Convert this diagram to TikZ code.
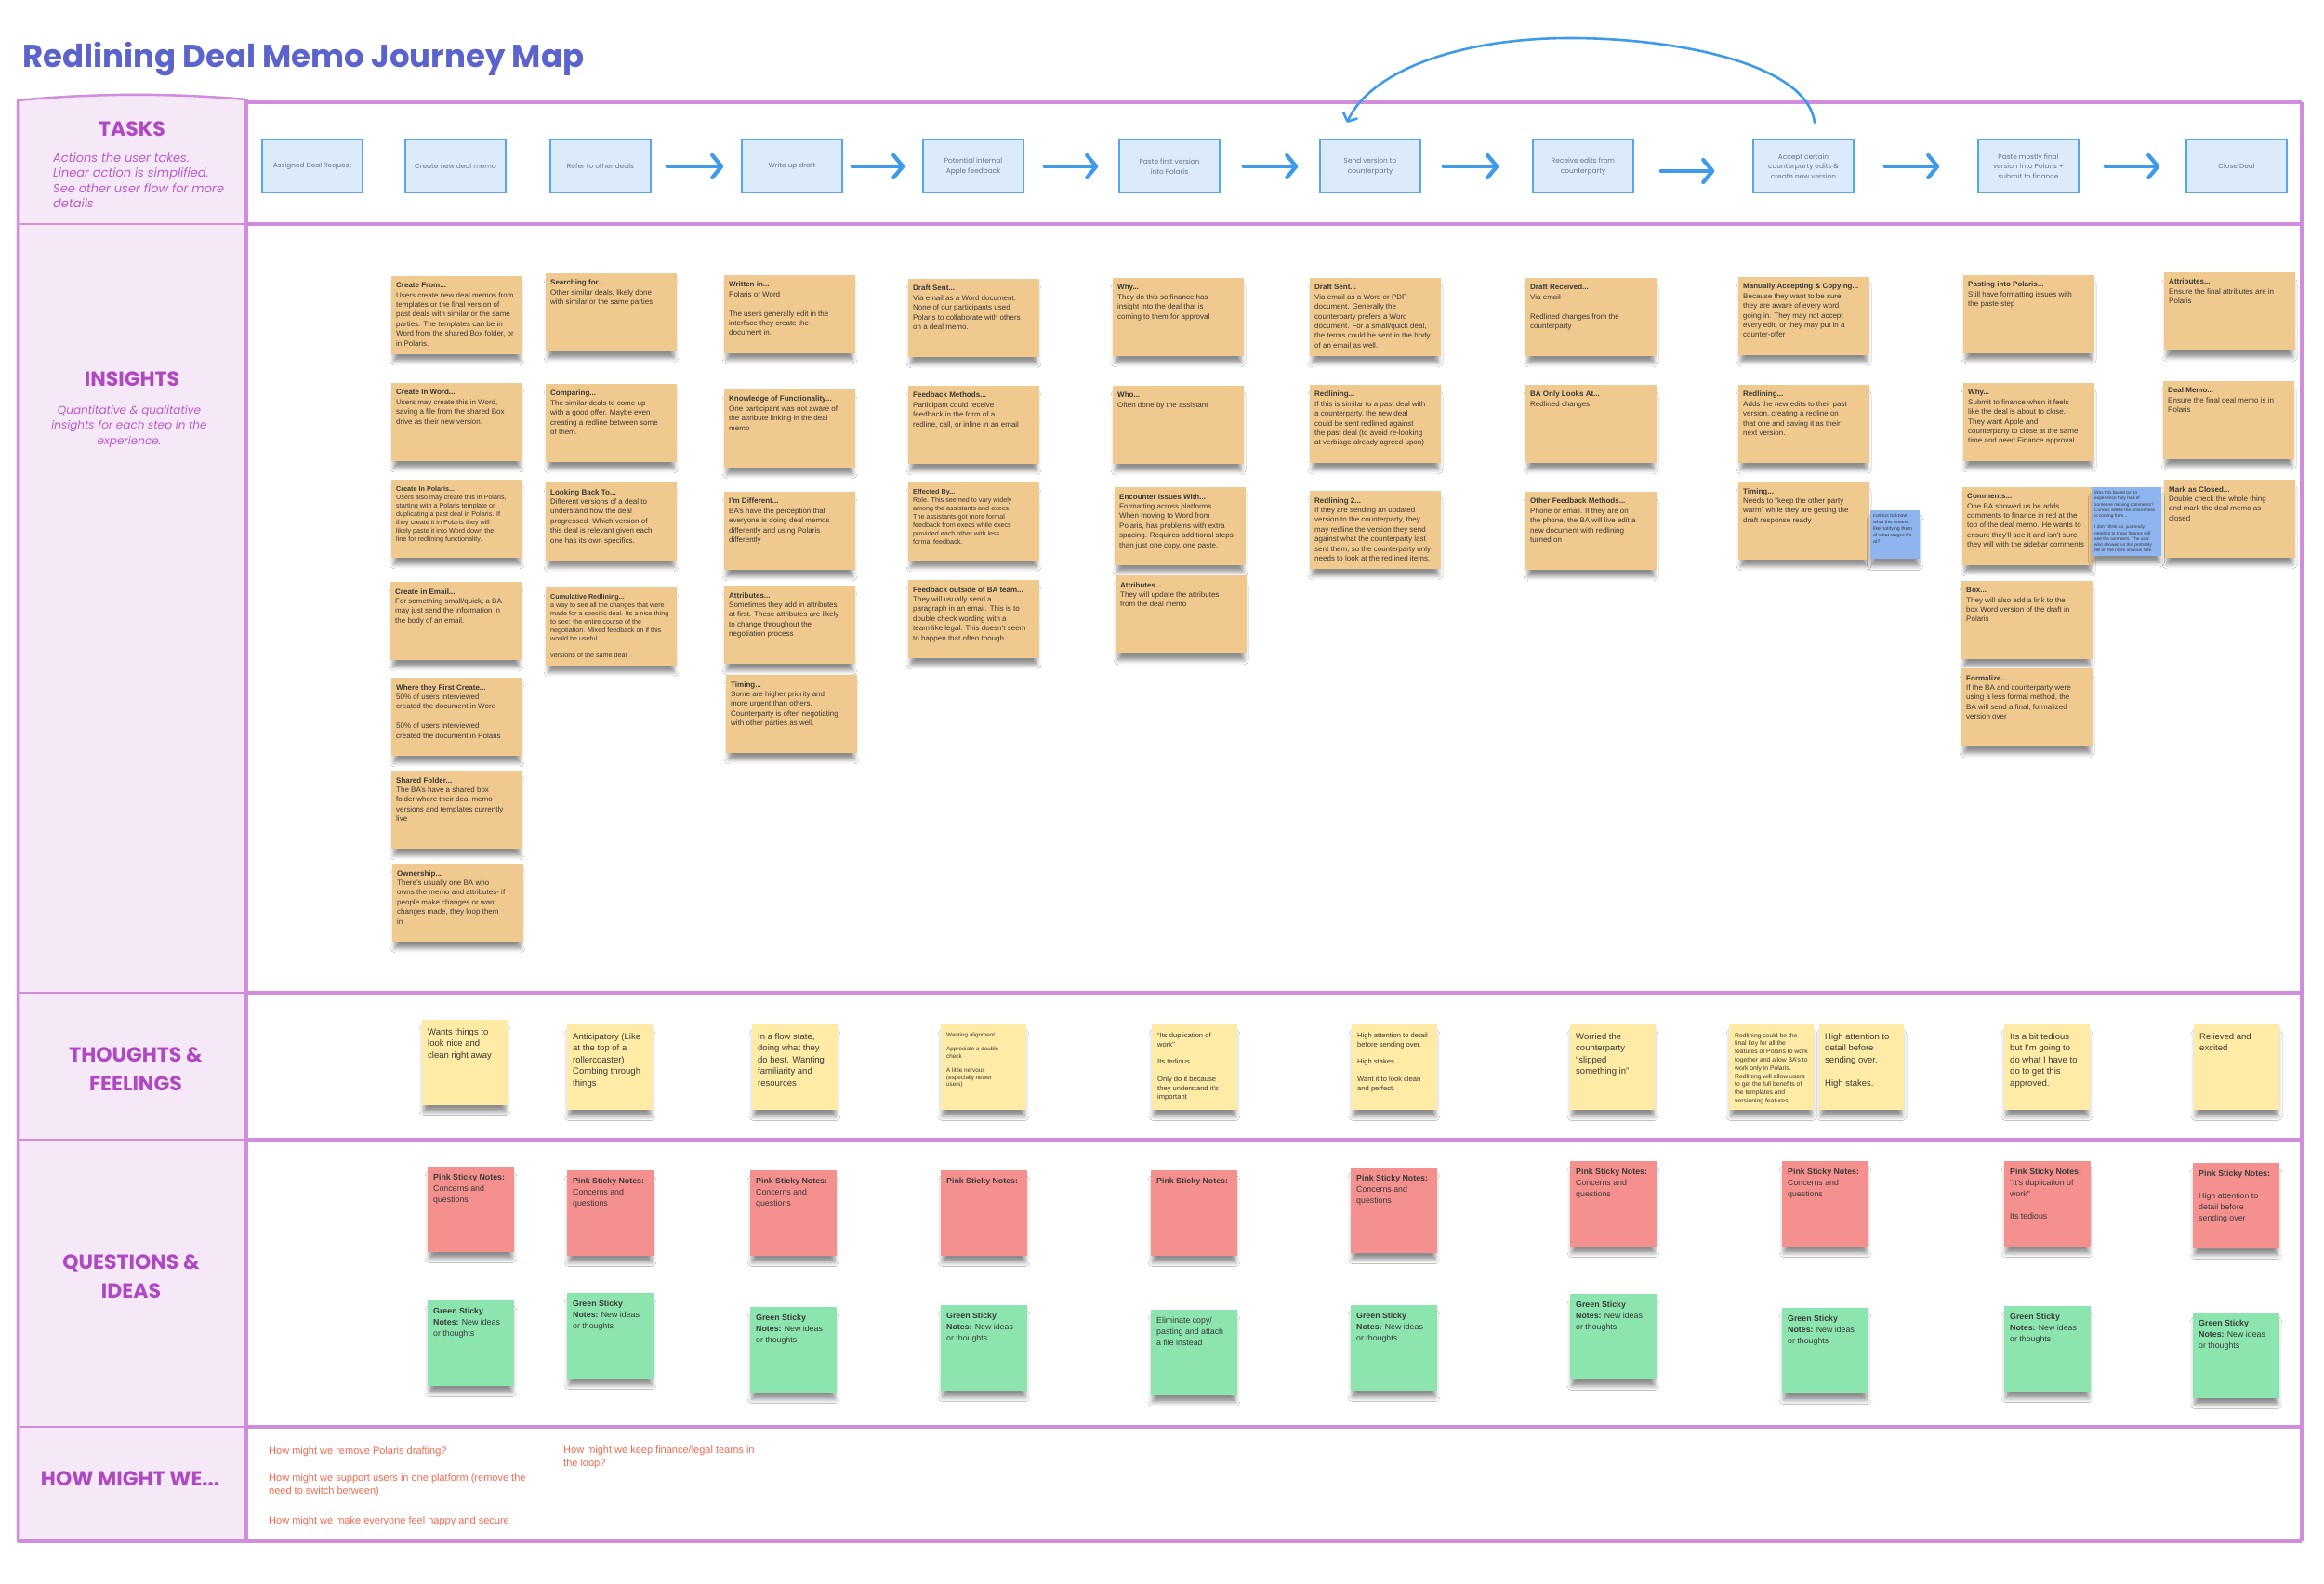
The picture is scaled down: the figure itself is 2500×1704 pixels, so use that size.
\documentclass[tikz,border=0pt]{standalone}
\usepackage{fontspec}
\setmainfont{Liberation Sans}
\newfontfamily\popfont{Poppins}
\usetikzlibrary{arrows.meta,shadows.blur,calc}

\definecolor{titleblue}{HTML}{5A64CC}
\definecolor{headpurple}{HTML}{B048C4}
\definecolor{descpurple}{HTML}{B85CCB}
\definecolor{gridpurple}{HTML}{CF8DDB}
\definecolor{panelfill}{HTML}{F5E8F7}
\definecolor{taskfill}{HTML}{DCEBFB}
\definecolor{taskborder}{HTML}{58A6EE}
\definecolor{tasktext}{HTML}{6A7382}
\definecolor{arrowblue}{HTML}{3D9BEA}
\definecolor{orangenote}{HTML}{F0C98E}
\definecolor{yellownote}{HTML}{FDEBA6}
\definecolor{pinknote}{HTML}{F4918F}
\definecolor{greennote}{HTML}{8CE4AE}
\definecolor{bluenote}{HTML}{8EB5EF}
\definecolor{notetext}{HTML}{3A3A3A}
\definecolor{bluetext}{HTML}{26355E}
\definecolor{hmwred}{HTML}{F26A4F}

\newcommand{\szO}{\fontsize{8}{10.4}\selectfont}
\newcommand{\szOs}{\fontsize{7.2}{9}\selectfont}
\newcommand{\szTb}{\fontsize{9.5}{12.5}\selectfont}
\newcommand{\szTm}{\fontsize{7.6}{9.4}\selectfont}
\newcommand{\szTs}{\fontsize{6.3}{7.6}\selectfont}
\newcommand{\szTx}{\fontsize{6.8}{8.8}\selectfont}
\newcommand{\szP}{\fontsize{8.8}{12}\selectfont}
\newcommand{\szB}{\fontsize{5.2}{6.8}\selectfont}
\newcommand{\szBs}{\fontsize{4.8}{6.2}\selectfont}

\def\tdx{5}\def\tdy{7}
% #1 style, #2 name, #3 x, #4 y (top-left), #5 w, #6 h, #7 font, #8 text
\newcommand{\mynote}[8]{%
  \node[#1, anchor=north west, minimum width=#5, minimum height=#6] (#2) at (#3,#4) {};
  \node[anchor=north west, align=left, inner sep=0pt, text=notetext, font=#7] (#2t) at ([shift={(\tdx,\tdy)}]#2.north west) {#8};
}

\begin{document}
\begin{tikzpicture}[x=1pt,y=-1pt,
  notebase/.style={draw=none, inner sep=0pt, outer sep=0pt,
    blur shadow={shadow xshift=0pt, shadow yshift=-9pt, shadow scale=0.96, shadow blur radius=5pt, shadow opacity=45}},
  onote/.style={notebase, fill=orangenote},
  ynote/.style={notebase, fill=yellownote},
  pnote/.style={notebase, fill=pinknote},
  gnote/.style={notebase, fill=greennote},
  bnote/.style={notebase, fill=bluenote},
  task/.style={draw=taskborder, line width=1.3, fill=taskfill, minimum width=108, minimum height=57,
    align=center, inner sep=2, font=\popfont\fontsize{7.4}{10.5}\selectfont, text=tasktext},
  taskarrow/.style={draw=arrowblue, line width=4.2, line cap=round,
    -{Straight Barb[length=10pt,width=24pt,round]}},
  looparrow/.style={draw=arrowblue, line width=2.6, line cap=round,
    -{Straight Barb[length=7pt,width=16pt,round]}},
  gridline/.style={draw=gridpurple, line width=3.2},
  gridthin/.style={draw=gridpurple, line width=1.4},
  head/.style={font=\popfont\bfseries\fontsize{22}{31}\selectfont, text=headpurple, align=center, inner sep=0},
  desc/.style={font=\popfont\itshape\fontsize{12}{16.5}\selectfont, text=descpurple, inner sep=0},
  hmw/.style={font=\fontsize{11}{14.5}\selectfont, text=hmwred, align=left, inner sep=0, anchor=north west}
]
\useasboundingbox (0,0) rectangle (2500,1704);
\fill[white] (0,0) rectangle (2500,1704);

% ---------- title ----------
\node[anchor=base west, font=\popfont\bfseries\fontsize{34}{40}\selectfont, text=titleblue, inner sep=0] (title) at (24,73) {Redlining Deal Memo Journey Map};

% ---------- left panel and grid ----------
\path[fill=panelfill, draw=gridpurple, line width=2.5] (19,108) .. controls (100,100) and (185,100) .. (265,107) -- (265,1658) -- (19,1658) -- cycle;
\draw[gridline] (265,110) -- (2476,110);
\foreach \yy in {241,1068,1226,1535} {
  \draw[gridthin] (19,\yy) -- (265,\yy);
  \draw[gridline] (265,\yy) -- (2476,\yy);
}
\draw[gridline] (19,1658) -- (2476,1658);
\draw[gridline] (2476,110) -- (2476,1658);
\draw[gridline] (265,107) -- (265,1658);

% ---------- row headings ----------
\node[head] (hTasks) at (142,139) {TASKS};
\node[desc, anchor=north west, align=left, font=\popfont\itshape\fontsize{13}{16.5}\selectfont] (dTasks) at (57,164) {Actions the user takes.\\Linear action is simplified.\\See other user flow for more\\details};
\node[head] (hInsights) at (142,408) {INSIGHTS};
\node[desc, anchor=north, align=center] (dInsights) at (139,436) {Quantitative \& qualitative\\insights for each step in the\\experience.};
\node[head] (hThoughts) at (146,1150) {THOUGHTS \&\\FEELINGS};
\node[head] (hQuestions) at (141,1373) {QUESTIONS \&\\IDEAS};
\node[head] (hHmw) at (140,1591) {HOW MIGHT WE...};

% ---------- tasks ----------
\node[task] (t1) at (336,179) {Assigned Deal Request};
\node[task] (t2) at (490,179) {Create new deal memo};
\node[task] (t3) at (646,179) {Refer to other deals};
\node[task] (t4) at (852,179) {Write up draft};
\node[task] (t5) at (1047,179) {Potential internal\\Apple feedback};
\node[task] (t6) at (1258,179) {Paste first version\\into Polaris};
\node[task] (t7) at (1474,179) {Send version to\\counterparty};
\node[task] (t8) at (1703,179) {Receive edits from\\counterparty};
\node[task] (t9) at (1940,179) {Accept certain\\counterparty edits \&\\create new version};
\node[task] (t10) at (2182,179) {Paste mostly final\\version into Polaris +\\submit to finance};
\node[task] (t11) at (2406,179) {Close Deal};

\draw[taskarrow, shorten <=17pt, shorten >=19pt] (t3) -- (t4);
\draw[taskarrow, shorten <=10pt, shorten >=19pt] (t4) -- (t5);
\draw[taskarrow, shorten <=22pt, shorten >=22pt] (t5) -- (t6);
\draw[taskarrow, shorten <=25pt, shorten >=23pt] (t6) -- (t7);
\draw[taskarrow, shorten <=24pt, shorten >=36pt] (t7) -- (t8);
\draw[taskarrow, shorten <=29pt, shorten >=41pt] ([yshift=-5pt]t8.east) -- ([yshift=-5pt]t9.west);
\draw[taskarrow, shorten <=33pt, shorten >=41pt] (t9) -- (t10);
\draw[taskarrow, shorten <=28pt, shorten >=28pt] (t10) -- (t11);

\coordinate (loopS) at ([shift={(12,-18)}]t9.north);
\coordinate (loopE) at ([shift={(-25,-18)}]t7.north);
\coordinate (loopTop) at (1689,41);
\draw[looparrow] (loopS) .. controls +(-8,-63) and +(115,0) .. (loopTop) .. controls +(-120,0) and +(25,-55) .. (loopE);

% ---------- insights (orange) ----------
\def\tdx{5}\def\tdy{7}
\mynote{onote}{a1}{421}{297}{141}{84}{\szO}{\textbf{Create From...}\\Users create new deal memos from\\templates or the final version of\\past deals with similar or the same\\parties. The templates can be in\\Word from the shared Box folder, or\\in Polaris.}
\mynote{onote}{a2}{421}{412}{141}{84}{\szO}{\textbf{Create In Word...}\\Users may create this in Word,\\saving a file from the shared Box\\drive as their new version.}
\mynote{onote}{a3}{421}{516}{141}{84}{\szOs}{\textbf{Create In Polaris...}\\Users also may create this in Polaris,\\starting with a Polaris template or\\duplicating a past deal in Polaris. If\\they create it in Polaris they will\\likely paste it into Word down the\\line for redlining functionality.}
\mynote{onote}{a4}{420}{626}{141}{84}{\szO}{\textbf{Create in Email...}\\For something small/quick, a BA\\may just send the information in\\the body of an email.}
\mynote{onote}{a5}{421}{729}{141}{84}{\szO}{\textbf{Where they First Create...}\\50\% of users interviewed\\created the document in Word\\[10.4pt]50\% of users interviewed\\created the document in Polaris}
\mynote{onote}{a6}{421}{829}{141}{84}{\szO}{\textbf{Shared Folder...}\\The BA's have a shared box\\folder where their deal memo\\versions and templates currently\\live}
\mynote{onote}{a7}{422}{929}{141}{84}{\szO}{\textbf{Ownership...}\\There's usually one BA who\\owns the memo and attributes- if\\people make changes or want\\changes made, they loop them\\in}

\mynote{onote}{b1}{587}{294}{141}{84}{\szO}{\textbf{Searching for...}\\Other similar deals, likely done\\with similar or the same parties}
\mynote{onote}{b2}{587}{413}{141}{84}{\szO}{\textbf{Comparing...}\\The similar deals to come up\\with a good offer. Maybe even\\creating a redline between some\\of them.}
\mynote{onote}{b3}{587}{519}{141}{84}{\szO}{\textbf{Looking Back To...}\\Different versions of a deal to\\understand how the deal\\progressed. Which version of\\this deal is relevant given each\\one has its own specifics.}
\mynote{onote}{b4}{587}{632}{141}{84}{\szOs}{\textbf{Cumulative Redlining...}\\a way to see all the changes that were\\made for a specific deal. Its a nice thing\\to see: the entire course of the\\negotiation. Mixed feedback on if this\\would be useful.\\[9pt]versions of the same deal}

\mynote{onote}{c1}{779}{296}{141}{84}{\szO}{\textbf{Written in...}\\Polaris or Word\\[10.4pt]The users generally edit in the\\interface they create the\\document in.}
\mynote{onote}{c2}{779}{419}{141}{84}{\szO}{\textbf{Knowledge of Functionality...}\\One participant was not aware of\\the attribute linking in the deal\\memo}
\mynote{onote}{c3}{779}{529}{141}{84}{\szO}{\textbf{I'm Different...}\\BA's have the perception that\\everyone is doing deal memos\\differently and using Polaris\\differently}
\mynote{onote}{c4}{779}{630}{141}{84}{\szO}{\textbf{Attributes...}\\Sometimes they add in attributes\\at first. These attributes are likely\\to change throughout the\\negotiation process}
\mynote{onote}{c5}{781}{726}{141}{84}{\szO}{\textbf{Timing...}\\Some are higher priority and\\more urgent than others.\\Counterparty is often negotiating\\with other parties as well.}

\mynote{onote}{d1}{977}{300}{141}{84}{\szO}{\textbf{Draft Sent...}\\Via email as a Word document.\\None of our participants used\\Polaris to collaborate with others\\on a deal memo.}
\mynote{onote}{d2}{977}{415}{141}{84}{\szO}{\textbf{Feedback Methods...}\\Participant could receive\\feedback in the form of a\\redline, call, or inline in an email}
\mynote{onote}{d3}{977}{519}{141}{84}{\szOs}{\textbf{Effected By...}\\Role. This seemed to vary widely\\among the assistants and execs.\\The assistants got more formal\\feedback from execs while execs\\provided each other with less\\formal feedback.}
\mynote{onote}{d4}{977}{624}{141}{84}{\szO}{\textbf{Feedback outside of BA team...}\\They will usually send a\\paragraph in an email. This is to\\double check wording with a\\team like legal. This doesn't seem\\to happen that often though.}

\mynote{onote}{e1}{1197}{299}{141}{84}{\szO}{\textbf{Why...}\\They do this so finance has\\insight into the deal that is\\coming to them for approval}
\mynote{onote}{e2}{1197}{415}{141}{84}{\szO}{\textbf{Who...}\\Often done by the assistant}
\mynote{onote}{e3}{1199}{524}{141}{84}{\szO}{\textbf{Encounter Issues With...}\\Formatting across platforms.\\When moving to Word from\\Polaris, has problems with extra\\spacing. Requires additional steps\\than just one copy, one paste.}
\mynote{onote}{e4}{1200}{619}{141}{84}{\szO}{\textbf{Attributes...}\\They will update the attributes\\from the deal memo}

\mynote{onote}{f1}{1409}{299}{141}{84}{\szO}{\textbf{Draft Sent...}\\Via email as a Word or PDF\\document. Generally the\\counterparty prefers a Word\\document. For a small/quick deal,\\the terms could be sent in the body\\of an email as well.}
\mynote{onote}{f2}{1409}{414}{141}{84}{\szO}{\textbf{Redlining...}\\If this is similar to a past deal with\\a counterparty, the new deal\\could be sent redlined against\\the past deal (to avoid re-looking\\at verbiage already agreed upon)}
\mynote{onote}{f3}{1409}{528}{141}{84}{\szO}{\textbf{Redlining 2...}\\If they are sending an updated\\version to the counterparty, they\\may redline the version they send\\against what the counterparty last\\sent them, so the counterparty only\\needs to look at the redlined items.}

\mynote{onote}{g1}{1641}{299}{141}{84}{\szO}{\textbf{Draft Received...}\\Via email\\[10.4pt]Redlined changes from the\\counterparty}
\mynote{onote}{g2}{1641}{414}{141}{84}{\szO}{\textbf{BA Only Looks At...}\\Redlined changes}
\mynote{onote}{g3}{1641}{529}{141}{84}{\szO}{\textbf{Other Feedback Methods...}\\Phone or email. If they are on\\the phone, the BA will live edit a\\new document with redlining\\turned on}

\mynote{onote}{h1}{1870}{298}{141}{84}{\szO}{\textbf{Manually Accepting \& Copying...}\\Because they want to be sure\\they are aware of every word\\going in. They may not accept\\every edit, or they may put in a\\counter-offer}
\mynote{onote}{h2}{1870}{414}{141}{84}{\szO}{\textbf{Redlining...}\\Adds the new edits to their past\\version, creating a redline on\\that one and saving it as their\\next version.}
\mynote{onote}{h3}{1870}{518}{141}{84}{\szO}{\textbf{Timing...}\\Needs to “keep the other party\\warm” while they are getting the\\draft response ready}

\mynote{onote}{i1}{2112}{296}{141}{84}{\szO}{\textbf{Pasting into Polaris...}\\Still have formatting issues with\\the paste step}
\mynote{onote}{i2}{2112}{412}{141}{84}{\szO}{\textbf{Why...}\\Submit to finance when it feels\\like the deal is about to close.\\They want Apple and\\counterparty to close at the same\\time and need Finance approval.}
\mynote{onote}{i3}{2111}{524}{141}{84}{\szO}{\textbf{Comments...}\\One BA showed us he adds\\comments to finance in red at the\\top of the deal memo. He wants to\\ensure they'll see it and isn't sure\\they will with the sidebar comments}
\mynote{onote}{i4}{2110}{625}{141}{84}{\szO}{\textbf{Box...}\\They will also add a link to the\\box Word version of the draft in\\Polaris}
\mynote{onote}{i5}{2110}{719}{141}{84}{\szO}{\textbf{Formalize...}\\If the BA and counterparty were\\using a less formal method, the\\BA will send a final, formalized\\version over}

\mynote{onote}{j1}{2328}{293}{141}{84}{\szO}{\textbf{Attributes...}\\Ensure the final attributes are in\\Polaris}
\mynote{onote}{j2}{2327}{410}{141}{84}{\szO}{\textbf{Deal Memo...}\\Ensure the final deal memo is in\\Polaris}
\mynote{onote}{j3}{2328}{516}{141}{84}{\szO}{\textbf{Mark as Closed...}\\Double check the whole thing\\and mark the deal memo as\\closed}

% blue comment notes
\def\tdx{3}\def\tdy{4}
\mynote{bnote}{bl1}{2012}{549}{53}{52}{\szB\color{bluetext}}{curious to know\\what this means.\\like notifying them\\of what stages it's\\at?}
\mynote{bnote}{bl2}{2250}{524}{75}{74}{\szBs\color{bluetext}}{Was this based on an\\experience they had of\\someone missing comments?\\Curious where the unsureness\\is coming from...\\[6.2pt]I don't think so, just really\\needing to know finance will\\see the comment. The user\\who showed us this probably\\fell on the more anxious side.}

% ---------- thoughts & feelings ----------
\def\tdx{6}\def\tdy{9}
\mynote{ynote}{th1}{454}{1097}{92}{92}{\szTb}{Wants things to\\look nice and\\clean right away}
\mynote{ynote}{th2}{610}{1102}{92}{92}{\szTb}{Anticipatory (Like\\at the top of a\\rollercoaster)\\Combing through\\things}
\mynote{ynote}{th3}{809}{1102}{92}{92}{\szTb}{In a flow state,\\doing what they\\do best. Wanting\\familiarity and\\resources}
\mynote{ynote}{th4}{1012}{1102}{92}{92}{\szTs}{Wanting alignment\\[7.6pt]Appreciate a double\\check\\[7.6pt]A little nervous\\(especially newer\\users)}
\mynote{ynote}{th5}{1239}{1102}{92}{92}{\szTm}{“Its duplication of\\work”\\[9.4pt]Its tedious\\[9.4pt]Only do it because\\they understand it's\\important}
\mynote{ynote}{th6}{1454}{1102}{92}{92}{\szTm}{High attention to detail\\before sending over.\\[9.4pt]High stakes.\\[9.4pt]Want it to look clean\\and perfect.}
\mynote{ynote}{th7}{1689}{1102}{92}{92}{\szTb}{Worried the\\counterparty\\“slipped\\something in”}
\mynote{ynote}{th8}{1860}{1102}{91}{92}{\szTx}{Redlining could be the\\final key for all the\\features of Polaris to work\\together and allow BA's to\\work only in Polaris.\\Redlining will allow users\\to get the full benefits of\\the templates and\\versioning features}
\mynote{ynote}{th9}{1957}{1102}{91}{92}{\szTb}{High attention to\\detail before\\sending over.\\[12.5pt]High stakes.}
\mynote{ynote}{th10}{2156}{1102}{92}{92}{\szTb}{Its a bit tedious\\but I'm going to\\do what I have to\\do to get this\\approved.}
\mynote{ynote}{th11}{2360}{1102}{92}{92}{\szTb}{Relieved and\\excited}

% ---------- questions & ideas ----------
\def\tdx{6}\def\tdy{8}
\mynote{pnote}{pk1}{460}{1255}{93}{92}{\szP}{\textbf{Pink Sticky Notes:}\\Concerns and\\questions}
\mynote{pnote}{pk2}{610}{1259}{93}{92}{\szP}{\textbf{Pink Sticky Notes:}\\Concerns and\\questions}
\mynote{pnote}{pk3}{807}{1259}{93}{92}{\szP}{\textbf{Pink Sticky Notes:}\\Concerns and\\questions}
\mynote{pnote}{pk4}{1012}{1259}{93}{92}{\szP}{\textbf{Pink Sticky Notes:}}
\mynote{pnote}{pk5}{1238}{1259}{93}{92}{\szP}{\textbf{Pink Sticky Notes:}}
\mynote{pnote}{pk6}{1453}{1256}{93}{92}{\szP}{\textbf{Pink Sticky Notes:}\\Concerns and\\questions}
\mynote{pnote}{pk7}{1689}{1249}{93}{92}{\szP}{\textbf{Pink Sticky Notes:}\\Concerns and\\questions}
\mynote{pnote}{pk8}{1917}{1249}{93}{92}{\szP}{\textbf{Pink Sticky Notes:}\\Concerns and\\questions}
\mynote{pnote}{pk9}{2156}{1249}{93}{92}{\szP}{\textbf{Pink Sticky Notes:}\\“It's duplication of\\work”\\[12pt]Its tedious}
\mynote{pnote}{pk10}{2359}{1251}{93}{92}{\szP}{\textbf{Pink Sticky Notes:}\\[12pt]High attention to\\detail before\\sending over}

\mynote{gnote}{gn1}{460}{1399}{93}{92}{\szP}{\textbf{Green Sticky}\\\textbf{Notes:} New ideas\\or thoughts}
\mynote{gnote}{gn2}{610}{1391}{93}{92}{\szP}{\textbf{Green Sticky}\\\textbf{Notes:} New ideas\\or thoughts}
\mynote{gnote}{gn3}{807}{1406}{93}{92}{\szP}{\textbf{Green Sticky}\\\textbf{Notes:} New ideas\\or thoughts}
\mynote{gnote}{gn4}{1012}{1404}{93}{92}{\szP}{\textbf{Green Sticky}\\\textbf{Notes:} New ideas\\or thoughts}
\mynote{gnote}{gn5}{1238}{1409}{93}{92}{\szP}{Eliminate copy/\\pasting and attach\\a file instead}
\mynote{gnote}{gn6}{1453}{1404}{93}{92}{\szP}{\textbf{Green Sticky}\\\textbf{Notes:} New ideas\\or thoughts}
\mynote{gnote}{gn7}{1689}{1392}{93}{92}{\szP}{\textbf{Green Sticky}\\\textbf{Notes:} New ideas\\or thoughts}
\mynote{gnote}{gn8}{1917}{1407}{93}{92}{\szP}{\textbf{Green Sticky}\\\textbf{Notes:} New ideas\\or thoughts}
\mynote{gnote}{gn9}{2156}{1405}{93}{92}{\szP}{\textbf{Green Sticky}\\\textbf{Notes:} New ideas\\or thoughts}
\mynote{gnote}{gn10}{2359}{1412}{93}{92}{\szP}{\textbf{Green Sticky}\\\textbf{Notes:} New ideas\\or thoughts}

% ---------- how might we ----------
\node[hmw] (hmw1) at (289,1556) {How might we remove Polaris drafting?};
\node[hmw] (hmw2) at (289,1585) {How might we support users in one platform (remove the\\need to switch between)};
\node[hmw] (hmw3) at (289,1631) {How might we make everyone feel happy and secure};
\node[hmw] (hmw4) at (606,1555) {How might we keep finance/legal teams in\\the loop?};
\end{tikzpicture}
\end{document}
